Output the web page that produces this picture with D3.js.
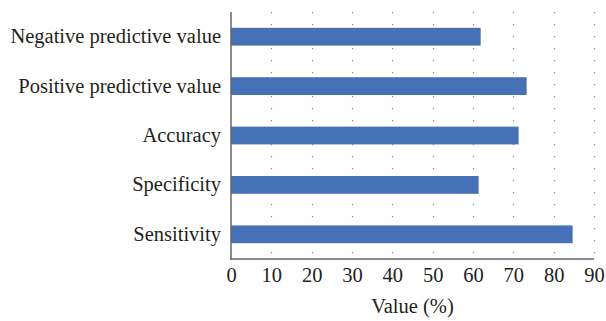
<!DOCTYPE html>
<html>
<head>
<meta charset="utf-8">
<script src="https://cdn.jsdelivr.net/npm/d3@7"></script>
<style>
  html, body { margin: 0; padding: 0; background: #fff; }
  svg { display: block; }
  text { font-family: "Liberation Serif", "DejaVu Serif", serif; fill: #231f20; }
</style>
</head>
<body>
<svg id="chart" width="606" height="321"></svg>
<script>
// Diagnostic performance measures (%)
const categories = [
  "Negative predictive value",
  "Positive predictive value",
  "Accuracy",
  "Specificity",
  "Sensitivity"
];
const values = [61.9, 73.3, 71.3, 61.4, 84.7];
const xTicks = [0, 10, 20, 30, 40, 50, 60, 70, 80, 90];
const xTitle = "Value (%)";

const svg = d3.select("#chart");
const margin = { left: 231, right: 12, top: 12, bottom: 62 };
const W = 606, H = 321;
const fontSize = 20.5;

const x = d3.scaleLinear().domain([0, 90]).range([margin.left, W - margin.right]);
const y = d3.scaleBand().domain(categories)
  .range([margin.top, H - margin.bottom])
  .paddingInner(0.64).paddingOuter(0.32);

// dotted vertical gridlines
svg.append("g").selectAll("line")
  .data(xTicks.filter(d => d > 0))
  .join("line")
  .attr("x1", d => Math.round(x(d)) + 0.5)
  .attr("x2", d => Math.round(x(d)) + 0.5)
  .attr("y1", margin.top)
  .attr("y2", H - margin.bottom)
  .attr("stroke", "#8a8a8a")
  .attr("stroke-width", 1.2)
  .attr("stroke-dasharray", "1.2,10.8");

// bars
svg.append("g").selectAll("rect")
  .data(categories)
  .join("rect")
  .attr("x", x(0))
  .attr("y", d => y(d))
  .attr("height", y.bandwidth())
  .attr("width", (d, i) => x(values[i]) - x(0))
  .attr("fill", "#4671b7");

// x axis (labels only, no tick marks)
const xAxis = svg.append("g")
  .attr("transform", `translate(0,${H - margin.bottom})`)
  .call(d3.axisBottom(x).tickValues(xTicks).tickSize(0).tickPadding(8).tickFormat(d3.format("d")));
xAxis.select(".domain").remove();
xAxis.selectAll("text").attr("font-size", fontSize).attr("font-family", "Liberation Serif").attr("fill", "#231f20");

// y axis (category labels)
const yAxis = svg.append("g")
  .attr("transform", `translate(${margin.left},0)`)
  .call(d3.axisLeft(y).tickSize(0).tickPadding(10));
yAxis.select(".domain").remove();
yAxis.selectAll("text").attr("font-size", fontSize).attr("font-family", "Liberation Serif").attr("fill", "#231f20");

// axis lines
svg.append("line")
  .attr("x1", x(0)).attr("x2", x(0))
  .attr("y1", margin.top).attr("y2", H - margin.bottom + 0.75)
  .attr("stroke", "#666").attr("stroke-width", 1.5);
svg.append("line")
  .attr("x1", x(0) - 0.75).attr("x2", x(90))
  .attr("y1", H - margin.bottom).attr("y2", H - margin.bottom)
  .attr("stroke", "#666").attr("stroke-width", 1.5);

// axis title
svg.append("text")
  .attr("x", (x(0) + x(90)) / 2)
  .attr("y", 313)
  .attr("text-anchor", "middle")
  .attr("font-size", fontSize)
  .text(xTitle);
</script>
</body>
</html>
